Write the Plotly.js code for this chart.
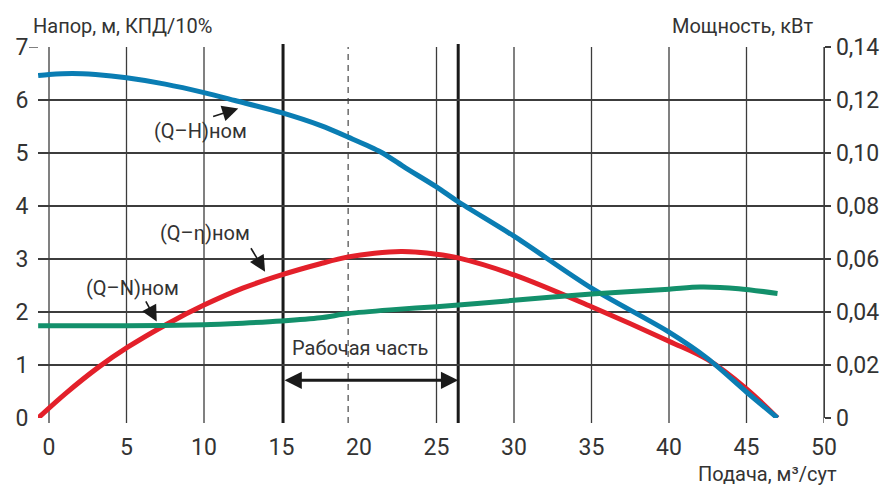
<!DOCTYPE html>
<html><head><meta charset="utf-8">
<script src="https://cdn.plot.ly/plotly-3.0.1.min.js"></script>
<style>html,body{margin:0;padding:0;background:#fff}#chart{width:881px;height:486px}</style>
</head><body><div id="chart"></div>
<script>
// Q–H curve (head, m)
const qH   = [-0.7, 0, 1.5, 3, 5, 7.5, 10, 12, 15, 17.5, 19.3, 21.4, 23, 25, 26.4, 30, 35, 40, 42.5, 45, 47];
const hVal = [6.46, 6.48, 6.50, 6.48, 6.42, 6.30, 6.14, 5.99, 5.76, 5.52, 5.30, 5.02, 4.72, 4.36, 4.08, 3.43, 2.45, 1.62, 1.12, 0.49, 0];
// Q–η curve (efficiency /10%)
const qEta   = [-0.7, 1.1, 3.2, 5.1, 7.6, 10, 12.5, 15, 17.5, 19.3, 21, 22.8, 25, 26.4, 30, 35, 40, 42.5, 45, 47];
const etaVal = [0, 0.47, 0.96, 1.34, 1.77, 2.13, 2.45, 2.70, 2.91, 3.04, 3.11, 3.14, 3.09, 3.02, 2.70, 2.10, 1.45, 1.10, 0.55, 0];
// Q–N curve (power, kW)
const qN   = [-0.7, 5, 10, 12.5, 15, 17.5, 19.3, 22, 25, 30, 35, 40, 42, 44.5, 47];
const nVal = [0.0348, 0.0348, 0.0352, 0.0358, 0.0366, 0.0378, 0.0394, 0.0408, 0.0420, 0.0444, 0.0468, 0.0486, 0.0494, 0.0488, 0.0470];

const xTickVals = [0, 5, 10, 15, 20, 25, 30, 35, 40, 45, 50];
const yTickVals = [0, 1, 2, 3, 4, 5, 6, 7];
const y2TickVals = [0, 0.02, 0.04, 0.06, 0.08, 0.10, 0.12, 0.14];
const y2TickText = ["0", "0,02", "0,04", "0,06", "0,08", "0,10", "0,12", "0,14"];
const gridQ = [0, 5, 10, 25, 30, 35, 40, 45, 50];
const workStart = 15.1, workEnd = 26.4, bepQ = 19.3, workArrowY = 0.71;

const FONT = "Roboto, 'DejaVu Sans', sans-serif";
const TXT = "#333333";
const GRID = "#3c3c3c";

const traces = [
  {x: qN, y: nVal, yaxis: 'y2', mode: 'lines', line: {color: '#13906b', width: 5, shape: 'spline', smoothing: 0.8}, hoverinfo: 'skip'},
  {x: qEta, y: etaVal, mode: 'lines', line: {color: '#e3202a', width: 5, shape: 'spline', smoothing: 1}, hoverinfo: 'skip'},
  {x: qH, y: hVal, mode: 'lines', line: {color: '#0a7db3', width: 5, shape: 'spline', smoothing: 0.8}, hoverinfo: 'skip'}
];

const shapes = [];
gridQ.forEach(q => shapes.push({type: 'line', xref: 'x', yref: 'paper', x0: q, x1: q, y0: -0.0135, y1: 1, line: {color: GRID, width: 1.3}, layer: 'below'}));
[workStart, workEnd].forEach(q => shapes.push({type: 'line', xref: 'x', yref: 'paper', x0: q, x1: q, y0: -0.0135, y1: 1.008, line: {color: '#1a1a1a', width: 3}, layer: 'below'}));
shapes.push({type: 'line', xref: 'x', yref: 'paper', x0: bepQ, x1: bepQ, y0: -0.0135, y1: 1, line: {color: '#555', width: 1.3, dash: '6px,5px'}, layer: 'below'});
shapes.push({type: 'line', xref: 'paper', yref: 'y', x0: -0.0115, x1: 0, y0: 7, y1: 7, line: {color: GRID, width: 1.3}});

const lbl = (text, x, y) => ({text, x, y, xref: 'x', yref: 'y', showarrow: false, font: {family: FONT, size: 20, color: TXT}});
const arr = (x, y, ax, ay) => ({text: '', x, y, ax, ay, xref: 'x', yref: 'y', showarrow: true, arrowhead: 2, arrowsize: 2, arrowwidth: 1.6, arrowcolor: '#1a1a1a', standoff: 0});

const annotations = [
  {text: 'Напор, м, КПД/10%', xref: 'paper', yref: 'paper', x: -0.0089, y: 1.0557, xanchor: 'left', yanchor: 'middle', showarrow: false, font: {family: FONT, size: 20, color: TXT}},
  {text: 'Мощность, кВт', xref: 'paper', yref: 'paper', x: 0.9885, y: 1.0557, xanchor: 'right', yanchor: 'middle', showarrow: false, font: {family: FONT, size: 20, color: TXT}},
  {text: 'Подача, м³/сут', xref: 'paper', yref: 'paper', x: 1.0185, y: -0.151, xanchor: 'right', yanchor: 'middle', showarrow: false, font: {family: FONT, size: 20, color: TXT}},
  lbl('Рабочая часть', 20.06, 1.32),
  lbl('(Q–H)ном', 9.8, 5.41),
  lbl('(Q–η)ном', 10.06, 3.49),
  lbl('(Q–N)ном', 5.4, 2.45),
  arr(12.21, 5.84, -26.6, 8.4),
  arr(13.94, 2.76, -15, -25),
  arr(6.95, 1.82, -11.7, -21.7),
  {text: '', x: workEnd, y: workArrowY, ax: workStart, ay: workArrowY, xref: 'x', yref: 'y', axref: 'x', ayref: 'y',
   showarrow: true, arrowside: 'end+start', arrowhead: 2, startarrowhead: 2, arrowsize: 1.15, startarrowsize: 1.15, arrowwidth: 3, arrowcolor: '#1a1a1a', standoff: 0, startstandoff: 0}
];

const layout = {
  width: 881, height: 486,
  margin: {l: 38, r: 57, t: 46.7, b: 67.7, pad: 0},
  paper_bgcolor: '#fff', plot_bgcolor: '#fff',
  showlegend: false,
  font: {family: FONT, color: TXT},
  xaxis: {range: [-0.71, 50], showgrid: false, zeroline: false, showline: false, tickvals: xTickVals,
          ticks: 'outside', ticklen: 8, tickcolor: 'rgba(0,0,0,0)', tickfont: {family: FONT, size: 23, color: TXT}, fixedrange: true},
  yaxis: {range: [0, 7], tickvals: yTickVals, showgrid: true, gridcolor: GRID, gridwidth: 1.3, zeroline: false, showline: false,
          ticks: 'outside', ticklen: 4, tickcolor: 'rgba(0,0,0,0)', tickfont: {family: FONT, size: 23, color: TXT}, fixedrange: true},
  yaxis2: {range: [0, 0.14], overlaying: 'y', side: 'right', tickvals: y2TickVals, ticktext: y2TickText, showgrid: false, zeroline: false,
           showline: true, linecolor: GRID, linewidth: 1.3, ticks: 'outside', ticklen: 6, tickwidth: 1.3, tickcolor: GRID,
           tickfont: {family: FONT, size: 23, color: TXT}, fixedrange: true},
  shapes, annotations
};

Plotly.newPlot('chart', traces, layout, {displayModeBar: false, staticPlot: true});
</script>
</body></html>
